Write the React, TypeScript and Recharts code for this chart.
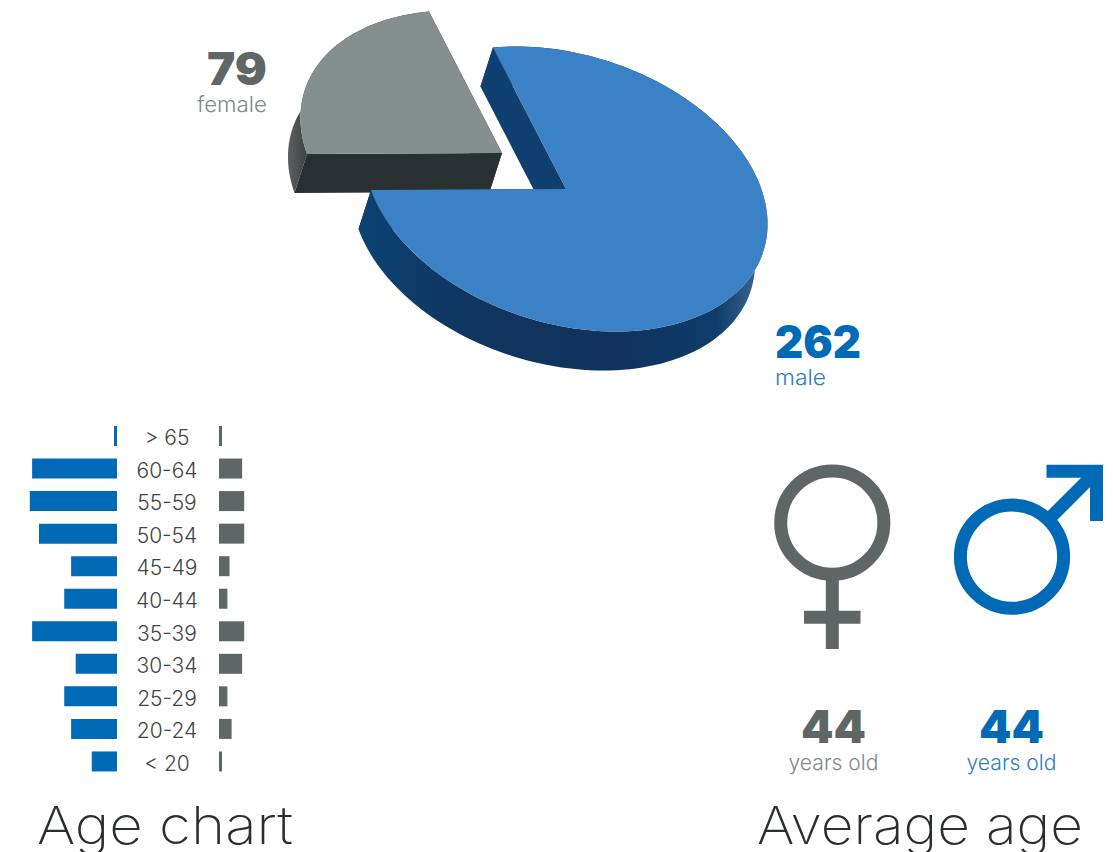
import React from "react";
import { Bar, BarChart, Pie, PieChart, XAxis, YAxis } from "recharts";

const genderNames = ["female", "male"];
const genderTotals = [79, 262];

const ageGroups = ["> 65", "60-64", "55-59", "50-54", "45-49", "40-44", "35-39", "30-34", "25-29", "20-24", "< 20"];
const maleByAge = [1, 37, 38, 34, 20, 23, 37, 18, 23, 20, 11];
const femaleByAge = [1, 11, 12, 12, 5, 4, 12, 11, 4, 6, 1];

const averageAgeFemale = 44;
const averageAgeMale = 44;

const BLUE = "#006ab7";
const GREY = "#5f6766";
const TEXT_FONT = "Inter, 'Open Sans', sans-serif";

const genderData = genderNames.map((name, i) => ({ name, value: genderTotals[i] }));
const ageData = ageGroups.map((group, i) => ({ group, male: maleByAge[i], female: femaleByAge[i] }));

// the disc is a sheared circle, these are its two axes for a radius of 200
const AXIS_U = [195, -1];
const AXIS_V = [-51, -142.5];
const DEPTH = [-12.5, 39];
const EXPLODE = [-64, -36];
const PIE_RADIUS = 200;

const sliceStyles = [
  { top: "#848f8e", inner: "#293031", wall: "url(#femaleWall)" },
  { top: "#3b81c5", inner: "#0e3f6e", wall: "url(#maleWall)" },
];

function rimPoints(cx: number, cy: number, r: number, start: number, end: number) {
  const pts: number[][] = [];
  const steps = Math.max(2, Math.ceil(Math.abs(end - start) / 2));
  for (let i = 0; i <= steps; i++) {
    const a = ((start + ((end - start) * i) / steps) * Math.PI) / 180;
    const k = r / PIE_RADIUS;
    pts.push([
      cx + k * (Math.cos(a) * AXIS_U[0] + Math.sin(a) * AXIS_V[0]),
      cy + k * (Math.cos(a) * AXIS_U[1] + Math.sin(a) * AXIS_V[1]),
    ]);
  }
  return pts;
}

const toPath = (pts: number[][]) => "M" + pts.map((p) => `${p[0]},${p[1]}`).join("L") + "Z";
const lower = (p: number[]) => [p[0] + DEPTH[0], p[1] + DEPTH[1]];

function Slice3D(props: any) {
  const { cx, cy, outerRadius, startAngle, endAngle, index } = props;
  const ox = index === 0 ? cx + EXPLODE[0] : cx;
  const oy = index === 0 ? cy + EXPLODE[1] : cy;
  const rim = rimPoints(ox, oy, outerRadius, startAngle, endAngle);
  const apex = [ox, oy];
  const first = rim[0];
  const last = rim[rim.length - 1];
  const style = sliceStyles[index];

  // back to front: far cut face, rim wall, near cut face, then the top
  return (
    <g>
      <path d={toPath([apex, last, lower(last), lower(apex)])} fill={style.inner} />
      <path d={toPath([...rim, ...rim.map(lower).reverse()])} fill={style.wall} />
      <path d={toPath([apex, first, lower(first), lower(apex)])} fill={style.inner} />
      <path d={toPath([apex, ...rim])} fill={style.top} />
    </g>
  );
}

function AgeTick({ x, y, payload }: any) {
  return (
    <text x={x + 44} y={y + 9} textAnchor="middle" fontFamily={TEXT_FONT} fontWeight={300} fontSize={21} fill="#3f4344">
      {payload.value}
    </text>
  );
}

function Stat({ x, y, value, label, color, labelColor, anchor, w, labelW }: any) {
  return (
    <g textAnchor={anchor}>
      <text x={x} y={y} fontFamily={TEXT_FONT} fontWeight={900} fontSize={45} fill={color} textLength={w} lengthAdjust="spacingAndGlyphs">
        {value}
      </text>
      <text x={x} y={y + 27} fontFamily={TEXT_FONT} fontWeight={300} fontSize={22} fill={labelColor} textLength={labelW} lengthAdjust="spacingAndGlyphs">
        {label}
      </text>
    </g>
  );
}

export default function App() {
  return (
    <div style={{ position: "absolute", left: 0, top: 0, width: 1113, height: 852, overflow: "hidden", background: "#fff" }}>
      <div style={{ position: "absolute", left: 0, top: 0 }}>
        <PieChart width={1113} height={420} margin={{ top: 0, right: 0, bottom: 0, left: 0 }}>
          <defs>
            <linearGradient id="maleWall" gradientUnits="userSpaceOnUse" x1="355" y1="0" x2="765" y2="0">
              <stop offset="0%" stopColor="#0b4372" />
              <stop offset="30%" stopColor="#10355f" />
              <stop offset="65%" stopColor="#10325c" />
              <stop offset="88%" stopColor="#0e3d6b" />
              <stop offset="100%" stopColor="#466a94" />
            </linearGradient>
            <linearGradient id="femaleWall" gradientUnits="userSpaceOnUse" x1="288" y1="0" x2="312" y2="0">
              <stop offset="0%" stopColor="#5c6162" />
              <stop offset="100%" stopColor="#34393a" />
            </linearGradient>
          </defs>
          <Pie
            data={genderData}
            dataKey="value"
            nameKey="name"
            cx={566}
            cy={189}
            outerRadius={PIE_RADIUS}
            startAngle={180}
            endAngle={-180}
            stroke="none"
            shape={Slice3D}
            isAnimationActive={false}
          />
        </PieChart>
      </div>

      <div style={{ position: "absolute", left: 0, top: 420 }}>
        <BarChart width={217} height={358} data={ageData} layout="vertical" margin={{ top: 0, right: 0, bottom: 0, left: 0 }}>
          <XAxis type="number" domain={[0, 51]} reversed hide />
          <YAxis type="category" dataKey="group" orientation="right" width={100} axisLine={false} tickLine={false} interval={0} tick={<AgeTick />} tickMargin={0} />
          <Bar dataKey="male" fill={BLUE} barSize={20} minPointSize={3} isAnimationActive={false} />
        </BarChart>
      </div>

      <div style={{ position: "absolute", left: 219, top: 420 }}>
        <BarChart width={100} height={358} data={ageData} layout="vertical" margin={{ top: 0, right: 0, bottom: 0, left: 0 }}>
          <XAxis type="number" domain={[0, 47.6]} hide />
          <YAxis type="category" dataKey="group" hide />
          <Bar dataKey="female" fill={GREY} barSize={20} minPointSize={3} isAnimationActive={false} />
        </BarChart>
      </div>

      <svg width={1113} height={852} style={{ position: "absolute", left: 0, top: 0, pointerEvents: "none" }}>
        <Stat x={267} y={85} value={genderTotals[0]} label={genderNames[0]} color={GREY} labelColor="#7f8a89" anchor="end" w={60} labelW={70} />
        <Stat x={775} y={358} value={genderTotals[1]} label={genderNames[1]} color={BLUE} labelColor="#2f7dc0" anchor="start" w={86} labelW={51} />

        {/* female symbol */}
        <g fill="none" stroke={GREY} strokeWidth={13}>
          <circle cx={832.3} cy={522.7} r={51.6} />
          <line x1={832.3} y1={578} x2={832.3} y2={649} />
          <line x1={804} y1={617.3} x2={860.5} y2={617.3} />
        </g>

        {/* male symbol */}
        <g fill="none" stroke={BLUE} strokeWidth={13}>
          <circle cx={1012} cy={556.7} r={51.6} />
          <line x1={1050} y1={518} x2={1096} y2={472} />
          <path d="M1046.5 471.3H1096.5V521" />
        </g>

        <Stat x={833.5} y={743} value={averageAgeFemale} label="years old" color={GREY} labelColor="#7f8a89" anchor="middle" w={65} labelW={90} />
        <Stat x={1011.5} y={743} value={averageAgeMale} label="years old" color={BLUE} labelColor="#2f7dc0" anchor="middle" w={65} labelW={90} />

        <text x={37} y={844} fontFamily={TEXT_FONT} fontWeight={250} fontSize={52} fill="#2b2e2f" textLength={256} lengthAdjust="spacingAndGlyphs">
          Age chart
        </text>
        <text x={757} y={844} fontFamily={TEXT_FONT} fontWeight={250} fontSize={52} fill="#2b2e2f" textLength={326} lengthAdjust="spacingAndGlyphs">
          Average age
        </text>
      </svg>
    </div>
  );
}
